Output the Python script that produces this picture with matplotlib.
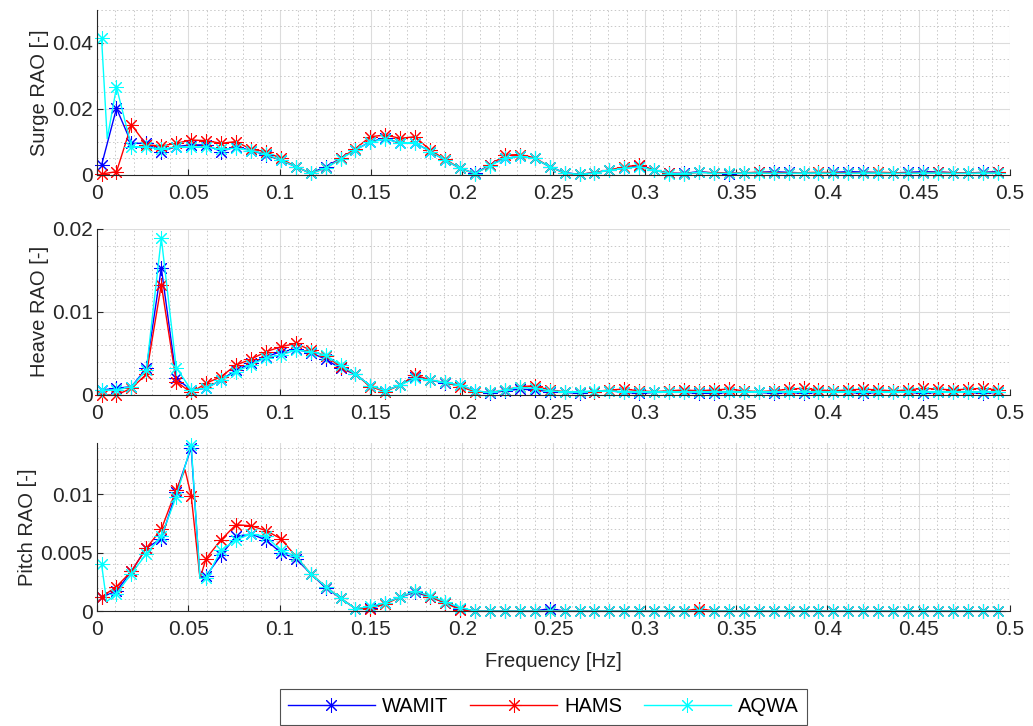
import numpy as np
import matplotlib
matplotlib.use('Agg')
import matplotlib.pyplot as plt
from matplotlib.ticker import MultipleLocator, FuncFormatter

plt.rcParams['font.family'] = ['Liberation Sans', 'DejaVu Sans']
plt.rcParams['font.size'] = 14.5

# frequency grid [Hz]
freq = np.linspace(0.0025, 0.4933, 61)

labels = ['WAMIT', 'HAMS', 'AQWA']
colors = ['#0000ff', '#ff0000', '#00ffff']

# ---- Surge RAO
surge_wamit = [0.0030, 0.0202, 0.0096, 0.0096, 0.0071, 0.0086, 0.0091, 0.0091, 0.0071, 0.0086,
               0.0074, 0.0061, 0.0045, 0.0025, 0.0005, 0.0025, 0.0050, 0.0076, 0.0101, 0.0111,
               0.0096, 0.0098, 0.0071, 0.0045, 0.0020, 0.0005, 0.0030, 0.0050, 0.0057, 0.0050,
               0.0025, 0.0007, 0.0002, 0.0007, 0.0015, 0.0020, 0.0028, 0.0015, 0.0005, 0.0005,
               0.0010, 0.0006, 0.0004, 0.0005, 0.0008, 0.0010, 0.0008, 0.0006, 0.0005, 0.0008,
               0.0010, 0.0009, 0.0007, 0.0006, 0.0008, 0.0010, 0.0009, 0.0007, 0.0006, 0.0008,
               0.0010]
surge_hams = [0.0003, 0.0010, 0.0152, 0.0091, 0.0088, 0.0096, 0.0106, 0.0104, 0.0096, 0.0101,
              0.0078, 0.0071, 0.0050, 0.0025, 0.0005, 0.0020, 0.0050, 0.0080, 0.0116, 0.0121,
              0.0111, 0.0116, 0.0075, 0.0048, 0.0020, 0.0003, 0.0030, 0.0060, 0.0062, 0.0052,
              0.0025, 0.0005, 0.0002, 0.0007, 0.0015, 0.0025, 0.0030, 0.0015, 0.0005, 0.0004,
              0.0008, 0.0007, 0.0006, 0.0007, 0.0008, 0.0007, 0.0006, 0.0007, 0.0008, 0.0007,
              0.0006, 0.0007, 0.0008, 0.0007, 0.0006, 0.0007, 0.0008, 0.0007, 0.0006, 0.0007,
              0.0008]
surge_aqwa = [0.0414, 0.0266, 0.0086, 0.0085, 0.0078, 0.0085, 0.0085, 0.0085, 0.0078, 0.0081,
              0.0074, 0.0063, 0.0045, 0.0025, 0.0005, 0.0020, 0.0048, 0.0076, 0.0100, 0.0108,
              0.0098, 0.0098, 0.0071, 0.0045, 0.0020, 0.0004, 0.0028, 0.0050, 0.0056, 0.0050,
              0.0025, 0.0006, 0.0002, 0.0006, 0.0014, 0.0020, 0.0025, 0.0014, 0.0004, 0.0004,
              0.0008, 0.0005, 0.0005, 0.0006, 0.0006, 0.0005, 0.0005, 0.0006, 0.0006, 0.0005,
              0.0005, 0.0006, 0.0006, 0.0005, 0.0005, 0.0006, 0.0006, 0.0005, 0.0005, 0.0006,
              0.0006]

# ---- Heave RAO
heave_wamit = [0.0006, 0.0008, 0.0010, 0.0032, 0.0153, 0.0020, 0.0006, 0.0008, 0.0018, 0.0030,
               0.0038, 0.0046, 0.0052, 0.0055, 0.0051, 0.0043, 0.0032, 0.0025, 0.0011, 0.0005,
               0.0012, 0.0022, 0.0018, 0.0014, 0.0012, 0.0005, 0.0002, 0.0005, 0.0007, 0.0006,
               0.0004, 0.0003, 0.0002, 0.0004, 0.0005, 0.0003, 0.0002, 0.0003, 0.0004, 0.0003,
               0.0002, 0.0002, 0.0003, 0.0004, 0.0003, 0.0002, 0.0003, 0.0002, 0.0003, 0.0004,
               0.0003, 0.0002, 0.0003, 0.0004, 0.0003, 0.0002, 0.0003, 0.0004, 0.0003, 0.0002,
               0.0003]
heave_hams = [0.0000, 0.0000, 0.0008, 0.0025, 0.0133, 0.0016, 0.0003, 0.0014, 0.0022, 0.0036,
              0.0043, 0.0052, 0.0058, 0.0062, 0.0054, 0.0047, 0.0034, 0.0025, 0.0010, 0.0004,
              0.0012, 0.0024, 0.0018, 0.0015, 0.0010, 0.0004, 0.0003, 0.0006, 0.0010, 0.0011,
              0.0006, 0.0004, 0.0003, 0.0004, 0.0006, 0.0007, 0.0005, 0.0004, 0.0005, 0.0006,
              0.0005, 0.0006, 0.0007, 0.0005, 0.0004, 0.0005, 0.0007, 0.0008, 0.0006, 0.0005,
              0.0006, 0.0007, 0.0006, 0.0005, 0.0006, 0.0008, 0.0007, 0.0006, 0.0007, 0.0008,
              0.0006]
heave_aqwa = [0.0006, 0.0006, 0.0010, 0.0030, 0.0189, 0.0033, 0.0006, 0.0008, 0.0018, 0.0028,
              0.0036, 0.0045, 0.0048, 0.0054, 0.0052, 0.0048, 0.0036, 0.0025, 0.0011, 0.0005,
              0.0012, 0.0020, 0.0018, 0.0015, 0.0012, 0.0005, 0.0003, 0.0006, 0.0009, 0.0008,
              0.0005, 0.0004, 0.0004, 0.0005, 0.0005, 0.0004, 0.0004, 0.0004, 0.0004, 0.0004,
              0.0004, 0.0004, 0.0004, 0.0004, 0.0004, 0.0004, 0.0004, 0.0004, 0.0004, 0.0004,
              0.0004, 0.0004, 0.0004, 0.0004, 0.0004, 0.0004, 0.0004, 0.0004, 0.0004, 0.0004,
              0.0004]

# ---- Pitch RAO
pitch_wamit = [0.0012, 0.0017, 0.0034, 0.0054, 0.0062, 0.0102, 0.0140, 0.0030, 0.0048, 0.0064,
               0.0066, 0.0061, 0.0050, 0.0045, 0.0032, 0.0020, 0.0011, 0.0002, 0.0003, 0.0007,
               0.0012, 0.0016, 0.0012, 0.0007, 0.0002, 0.0000, 0.0000, 0.0000, 0.0000, 0.0000,
               0.0002, 0.0000, 0.0000, 0.0000, 0.0000, 0.0000, 0.0000, 0.0000, 0.0000, 0.0000,
               0.0000, 0.0000, 0.0000, 0.0000, 0.0000, 0.0000, 0.0000, 0.0000, 0.0000, 0.0000,
               0.0000, 0.0000, 0.0000, 0.0000, 0.0000, 0.0000, 0.0000, 0.0000, 0.0000, 0.0000,
               0.0000]
pitch_hams = [0.0012, 0.0021, 0.0034, 0.0054, 0.0070, 0.0104, 0.0099, 0.0045, 0.0061, 0.0074,
              0.0073, 0.0069, 0.0062, 0.0047, 0.0032, 0.0021, 0.0011, 0.0002, 0.0002, 0.0006,
              0.0012, 0.0017, 0.0012, 0.0007, 0.0001, 0.0000, 0.0000, 0.0000, 0.0000, 0.0000,
              0.0000, 0.0000, 0.0000, 0.0000, 0.0000, 0.0000, 0.0000, 0.0000, 0.0000, 0.0000,
              0.0002, 0.0000, 0.0000, 0.0000, 0.0000, 0.0000, 0.0000, 0.0000, 0.0000, 0.0000,
              0.0000, 0.0000, 0.0000, 0.0000, 0.0000, 0.0000, 0.0000, 0.0000, 0.0000, 0.0000,
              0.0000]
pitch_aqwa = [0.0040, 0.0015, 0.0032, 0.0049, 0.0064, 0.0098, 0.01424, 0.0028, 0.0052, 0.0061,
              0.0066, 0.0064, 0.0052, 0.0047, 0.0032, 0.0021, 0.0011, 0.0002, 0.0004, 0.0007,
              0.0012, 0.0017, 0.0013, 0.0008, 0.0003, 0.0000, 0.0000, 0.0000, 0.0000, 0.0000,
              0.0000, 0.0000, 0.0000, 0.0000, 0.0000, 0.0000, 0.0000, 0.0000, 0.0000, 0.0000,
              0.0000, 0.0000, 0.0000, 0.0000, 0.0000, 0.0000, 0.0000, 0.0000, 0.0000, 0.0000,
              0.0000, 0.0000, 0.0000, 0.0000, 0.0000, 0.0000, 0.0000, 0.0000, 0.0000, 0.0000,
              0.0000]

# unmarked intermediate points (line kinks without a marker)
surge_aqwa_extra = [(0.0056, 0.0110)]
pitch_wamit_extra = [(0.0564, 0.0028)]
pitch_hams_extra = [(0.0482, 0.0121), (0.0564, 0.0028)]
pitch_aqwa_extra = [(0.0053, 0.0008), (0.0564, 0.0028)]

panels = [
    ('Surge RAO [-]', [surge_wamit, surge_hams, surge_aqwa],
     [[], [], surge_aqwa_extra], 0.05, 0.02, 0.005),
    ('Heave RAO [-]', [heave_wamit, heave_hams, heave_aqwa],
     [[], [], []], 0.02, 0.01, 0.002),
    ('Pitch RAO [-]', [pitch_wamit, pitch_hams, pitch_aqwa],
     [pitch_wamit_extra, pitch_hams_extra, pitch_aqwa_extra], 0.0144, 0.005, 0.001),
]

# axes rectangles [left, bottom, width, height] in figure fraction
rects = [[0.0939, 0.759, 0.8838, 0.2273],
         [0.0939, 0.456, 0.8838, 0.2287],
         [0.0939, 0.1584, 0.8838, 0.2314]]

fmt = FuncFormatter(lambda v, p: '%g' % round(v, 6))


def add_series(ax, y, extra, color, label):
    x = list(freq)
    yy = list(y)
    marked = [True] * len(x)
    for fx, fy in extra:
        i = int(np.searchsorted(x, fx))
        x.insert(i, fx)
        yy.insert(i, fy)
        marked.insert(i, False)
    return ax.plot(x, yy, color=color, lw=1.0, marker=(8, 2, 0), ms=10.5, mew=0.75,
                   markevery=[i for i, m in enumerate(marked) if m], label=label)[0]


fig = plt.figure(figsize=(10.33, 7.26), dpi=100)
handles = []
for rect, (ylab, series, extras, ytop, ymaj, ymin) in zip(rects, panels):
    ax = fig.add_axes(rect)
    for y, ex, c, lab in zip(series, extras, colors, labels):
        h = add_series(ax, y, ex, c, lab)
        if len(handles) < 3:
            handles.append(h)
    ax.set_xlim(0, 0.5)
    ax.set_ylim(0, ytop)
    ax.xaxis.set_major_locator(MultipleLocator(0.05))
    ax.xaxis.set_minor_locator(MultipleLocator(0.01))
    ax.yaxis.set_major_locator(MultipleLocator(ymaj))
    ax.yaxis.set_minor_locator(MultipleLocator(ymin))
    ax.xaxis.set_major_formatter(fmt)
    ax.yaxis.set_major_formatter(fmt)
    ax.grid(which='major', color='#dcdcdc', lw=0.8, ls='-')
    ax.grid(which='minor', color='#c8c8c8', lw=0.7, ls=(0, (1.5, 2.5)))
    ax.set_axisbelow(True)
    for s in ['top', 'right']:
        ax.spines[s].set_visible(False)
    for s in ['left', 'bottom']:
        ax.spines[s].set_color('#262626')
        ax.spines[s].set_linewidth(0.8)
    ax.tick_params(which='major', direction='in', length=4, width=0.8, color='#262626',
                   labelcolor='#262626', labelsize=15)
    ax.tick_params(axis='x', which='major', pad=6.5)
    ax.tick_params(axis='y', which='major', pad=3)
    ax.tick_params(which='minor', length=0)
    ax.set_ylabel(ylab, color='#262626', fontsize=14.5, labelpad=2)
    for line in ax.get_lines():
        line.set_clip_on(False)

ax.set_xlabel('Frequency [Hz]', color='#262626', fontsize=14.5, labelpad=9)

leg = fig.legend(handles, labels, loc='lower center', bbox_to_anchor=(0.526, 0.002),
                 ncol=3, frameon=True, fancybox=False, edgecolor='#262626',
                 handlelength=4.3, columnspacing=1.1, handletextpad=0.35,
                 borderaxespad=0, fontsize=14.5, numpoints=1, borderpad=0.42)
leg.get_frame().set_linewidth(0.8)

fig.savefig('out.png', dpi=100)
